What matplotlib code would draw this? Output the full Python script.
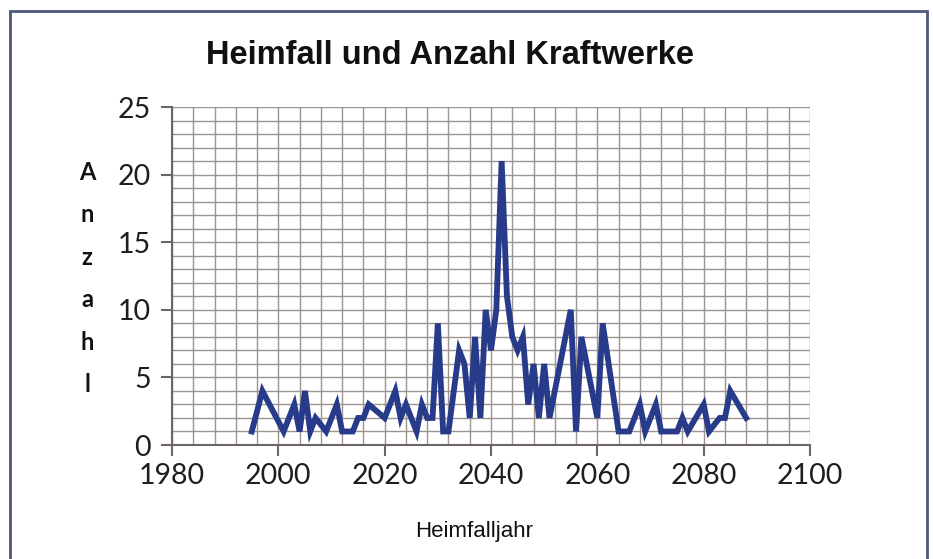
"""Heimfall und Anzahl Kraftwerke - Linienchart nachgebaut"""

import matplotlib
matplotlib.use('Agg')
import matplotlib.pyplot as plt
from matplotlib.patches import Rectangle

# Heimfalljahr und Anzahl Kraftwerke
years = [1995, 1997, 2001, 2003, 2004, 2005, 2006, 2007, 2009, 2011,
         2012, 2014, 2015, 2016, 2017, 2020, 2022, 2023, 2024, 2026,
         2027, 2028, 2029, 2030, 2031, 2032, 2034, 2035, 2036, 2037,
         2038, 2039, 2040, 2041, 2042, 2043, 2044, 2045, 2046, 2047,
         2048, 2049, 2050, 2051, 2055, 2056, 2057, 2060, 2061, 2064,
         2066, 2068, 2069, 2071, 2072, 2075, 2076, 2077, 2080, 2081,
         2083, 2084, 2085, 2088]
counts = [1, 4, 1, 3, 1, 4, 1, 2, 1, 3,
          1, 1, 2, 2, 3, 2, 4, 2, 3, 1,
          3, 2, 2, 9, 1, 1, 7, 6, 2, 8,
          2, 10, 7, 10, 21, 11, 8, 7, 8, 3,
          6, 2, 6, 2, 10, 1, 8, 2, 9, 1,
          1, 3, 1, 3, 1, 1, 2, 1, 3, 1,
          2, 2, 4, 2]

x_ticks = [1980, 2000, 2020, 2040, 2060, 2080, 2100]
y_ticks = [0, 5, 10, 15, 20, 25]

title = 'Heimfall und Anzahl Kraftwerke'
xlabel = 'Heimfalljahr'
ylabel = 'Anzahl'

fig = plt.figure(figsize=(9.33, 5.59), dpi=100)
fig.patch.set_facecolor('white')

# Rahmen um das ganze Diagramm
fig.add_artist(Rectangle((10 / 933, -0.02), 917 / 933, 1 - 11 / 559 + 0.02,
                         transform=fig.transFigure, fill=False,
                         edgecolor='#4b5878', linewidth=2))

ax = fig.add_axes([172 / 933, 1 - 445 / 559, 638 / 933, 338 / 559])

grid_col = '#9b9490'
for gx in range(1980, 2101, 4):
    ax.axvline(gx, color=grid_col, linewidth=1.0, zorder=1)
for gy in range(0, 26):
    ax.axhline(gy, color=grid_col, linewidth=1.0, zorder=1)

ax.plot(years, counts, color='#283a8a', linewidth=4.2, zorder=3,
        solid_joinstyle='miter')

ax.set_xlim(1980, 2100)
ax.set_ylim(0, 25)
ax.set_xticks(x_ticks)
ax.set_yticks(y_ticks)

for side in ['top', 'right']:
    ax.spines[side].set_visible(False)
for side in ['left', 'bottom']:
    ax.spines[side].set_color('#6e6664')
    ax.spines[side].set_linewidth(1.5)
    ax.spines[side].set_zorder(2)

ax.tick_params(axis='both', direction='out', length=8, width=1.5,
               color='#6e6664', labelsize=20.5, labelcolor='#1e1e1e')
ax.tick_params(axis='x', pad=5)
ax.tick_params(axis='y', pad=7)
for lab in ax.get_xticklabels() + ax.get_yticklabels():
    lab.set_fontfamily('Lato')

fig.text(450 / 933, 1 - 55 / 559, title, ha='center', va='center',
         fontsize=23.5, fontweight='bold', family='Liberation Sans',
         color='#111111')
fig.text(474 / 933, 1 - 532 / 559, xlabel, ha='center', va='center',
         fontsize=16, family='Liberation Sans', color='#111111')

# senkrechte Buchstaben der y-Achsenbeschriftung
for i, ch in enumerate(ylabel):
    fig.text(87 / 933, 1 - (172 + i * 42.6) / 559, ch, ha='center',
             va='center', fontsize=17, fontweight='bold', family='Lato',
             color='#111111')

fig.savefig('out.png', dpi=100, facecolor='white')
